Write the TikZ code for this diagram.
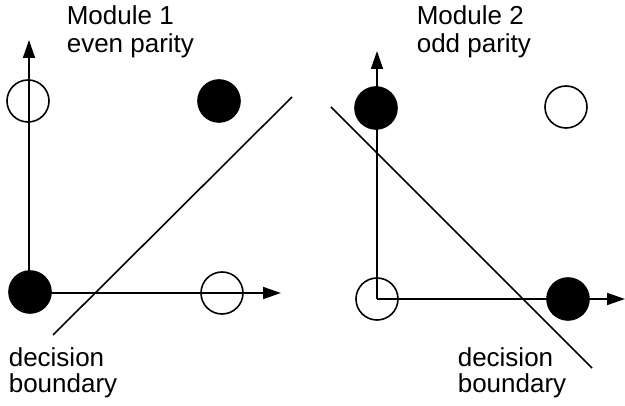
\documentclass[tikz,border=0pt]{standalone}
\usepackage{fontspec}
\setmainfont{Liberation Sans}
\usetikzlibrary{arrows.meta}
\begin{document}
\begin{tikzpicture}[x=1pt,y=-1pt,
  line width=1.6pt,
  open/.style={circle,draw=black,line width=1.6pt,minimum size=42pt,inner sep=0pt},
  full/.style={circle,fill=black,draw=black,line width=1.6pt,minimum size=42pt,inner sep=0pt},
  lbl/.style={anchor=base west,inner sep=0pt,font=\fontsize{26}{27}\selectfont},
  axis/.style={-{Triangle[length=18pt,width=12pt]}},
  bound/.style={line width=1.6pt}]
\useasboundingbox (0,0) rectangle (625,406);
% Module 1
\coordinate (o1) at (29,293);
\coordinate (y1) at (29,40);
\coordinate (x1) at (281,293);
\draw[axis] (o1) -- (y1);
\draw[axis] (o1) -- (x1);
\node[open] (a1) at (28,101) {};
\node[full] (b1) at (219,101) {};
\node[full] (c1) at (30,292) {};
\node[open] (d1) at (222,293) {};
\coordinate (p1) at (53,335);
\coordinate (q1) at (292,97);
\draw[bound] (p1) -- (q1);
\node[lbl] (t1) at (66,25) {Module 1};
\node[lbl] (t2) at (66,53) {even parity};
\node[lbl] (t3) at (8,367) {decision};
\node[lbl] (t4) at (8,393) {boundary};
% Module 2
\coordinate (o2) at (377,299);
\coordinate (y2) at (377,51);
\coordinate (x2) at (625,299);
\draw[axis] (o2) -- (y2);
\draw[axis] (o2) -- (x2);
\node[full] (a2) at (376,108) {};
\node[open] (b2) at (566,107) {};
\node[open] (c2) at (377,299) {};
\node[full] (d2) at (568,299) {};
\coordinate (p2) at (331,107);
\coordinate (q2) at (592,368);
\draw[bound] (p2) -- (q2);
\node[lbl] (u1) at (416,25) {Module 2};
\node[lbl] (u2) at (416,53) {odd parity};
\node[lbl] (u3) at (457,367) {decision};
\node[lbl] (u4) at (457,393) {boundary};
\end{tikzpicture}
\end{document}
